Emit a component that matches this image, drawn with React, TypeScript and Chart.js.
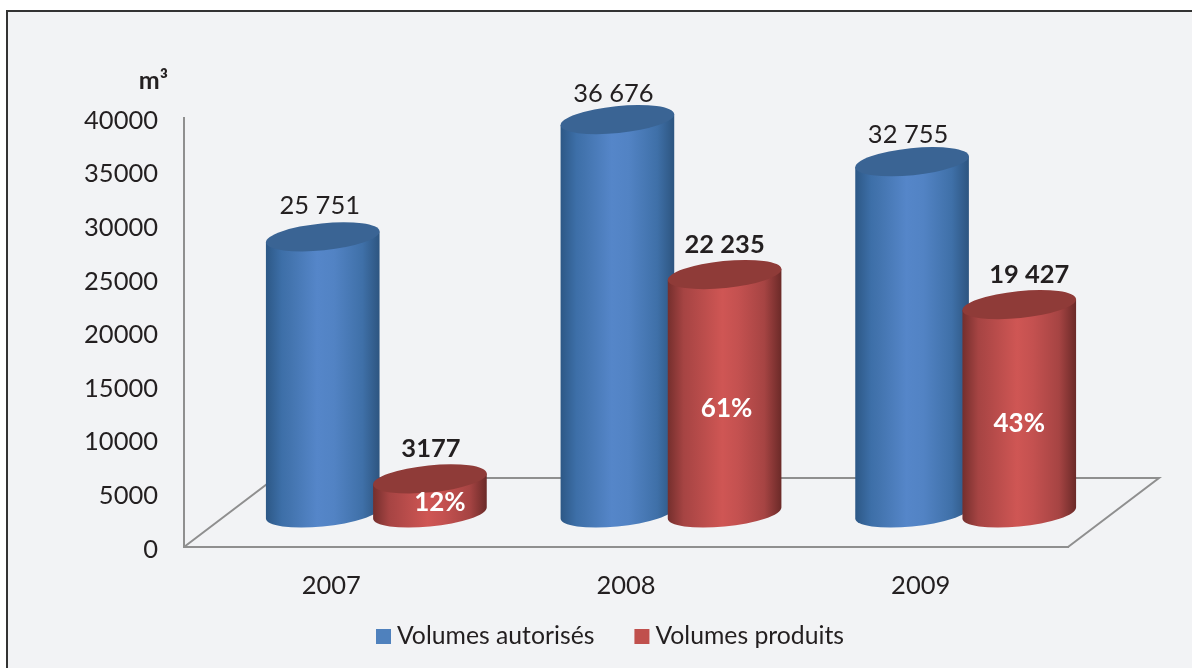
import React, { useEffect, useRef } from "react";
import { Chart, registerables } from "chart.js";

Chart.register(...registerables);

const categories = ["2007", "2008", "2009"];
const volumesAutorises = [25751, 36676, 32755];
const volumesProduits = [3177, 22235, 19427];
const labelsAutorises = ["25 751", "36 676", "32 755"];
const labelsProduits = ["3177", "22 235", "19 427"];
const shares = ["12%", "61%", "43%"];
const seriesNames = ["Volumes autorisés", "Volumes produits"];
const unit = "m³";

const FONT = "Lato, Carlito, sans-serif";
const TEXT = "#231f20";
const AXIS = "#8f8f8f";

// 3D projection: full floor depth, and where the columns stand on it.
const FLOOR_DX = 91;
const FLOOR_DY = 69;
const BAR_DX = 45;
const BAR_DY = 34;
const RX_EXTRA = 3;
const TILT = (-5.8 * Math.PI) / 180;
const RY = 13.5;

// Hand placement of the value labels relative to the top of each column.
const labelNudge = [
  [{ x: -3, y: -31 }, { x: -4, y: -26 }, { x: -4, y: -27 }],
  [{ x: 1, y: -30 }, { x: 0, y: -30 }, { x: 10, y: -30 }],
];
const shareNudge = [{ x: 10, y: 7 }, { x: 2, y: 15 }, { x: 0, y: 15 }];

const BLUE_STOPS: [number, string][] = [
  [0, "#2d5886"], [0.14, "#3d6fa8"], [0.2, "#4273ad"], [0.45, "#5586c9"], [0.6, "#5283c4"], [0.85, "#3f70a8"], [1, "#2d5580"],
];
const RED_STOPS: [number, string][] = [
  [0, "#752f2d"], [0.14, "#a64443"], [0.2, "#ad4746"], [0.48, "#cf5654"], [0.62, "#c45150"], [0.85, "#a64443"], [1, "#6b2a28"],
];
const TOPS = ["#3a6494", "#8f3b38"];

const cylinders = {
  id: "cylinders",
  afterLayout(chart: any) {
    const lg = chart.legend;
    if (lg) {
      const p = lg.options.labels.padding;
      lg.left = 382.4 - p;
      lg.right = lg.left + 600;
      lg.top = 624.1 - p;
    }
  },
  beforeDatasetsDraw(chart: any) {
    const ctx: CanvasRenderingContext2D = chart.ctx;
    const a = chart.chartArea;

    // floor parallelogram
    ctx.save();
    ctx.strokeStyle = AXIS;
    ctx.lineWidth = 2;
    ctx.lineJoin = "miter";
    ctx.beginPath();
    ctx.moveTo(a.left, a.bottom);
    ctx.lineTo(a.left + FLOOR_DX, a.bottom - FLOOR_DY);
    ctx.lineTo(a.right + FLOOR_DX, a.bottom - FLOOR_DY);
    ctx.lineTo(a.right, a.bottom);
    ctx.stroke();
    ctx.restore();

    const cos = Math.cos(TILT);
    const sin = Math.sin(TILT);

    categories.forEach((_, i) => {
      [0, 1].forEach((d) => {
        const el = chart.getDatasetMeta(d).data[i];
        const cx = el.x + BAR_DX;
        const topY = el.y - BAR_DY;
        const baseY = el.base - BAR_DY;
        const rx = (el.width + RX_EXTRA * 2) / 2 + 0.5;
        const t0 = Math.atan2(-RY * sin, rx * cos);
        const ex = rx * Math.cos(t0) * cos - RY * Math.sin(t0) * sin;
        const ey = rx * Math.cos(t0) * sin + RY * Math.sin(t0) * cos;

        const grad = ctx.createLinearGradient(cx - ex, 0, cx + ex, 0);
        (d === 0 ? BLUE_STOPS : RED_STOPS).forEach(([o, c]) => grad.addColorStop(o, c));

        ctx.beginPath();
        ctx.ellipse(cx, baseY, rx, RY, TILT, t0, t0 + Math.PI, false);
        ctx.lineTo(cx - ex, topY - ey);
        ctx.lineTo(cx + ex, topY + ey);
        ctx.closePath();
        ctx.fillStyle = grad;
        ctx.fill();

        ctx.beginPath();
        ctx.ellipse(cx, topY, rx, RY, TILT, 0, Math.PI * 2);
        ctx.fillStyle = TOPS[d];
        ctx.fill();
      });

      // value labels
      [0, 1].forEach((d) => {
        const el = chart.getDatasetMeta(d).data[i];
        const n = labelNudge[d][i];
        ctx.font = `${d === 0 ? "400" : "700"} 25.5px ${FONT}`;
        ctx.fillStyle = TEXT;
        ctx.textAlign = "center";
        ctx.textBaseline = "middle";
        ctx.fillText((d === 0 ? labelsAutorises : labelsProduits)[i], el.x + BAR_DX + n.x, el.y - BAR_DY + n.y);
      });

      const red = chart.getDatasetMeta(1).data[i];
      const s = shareNudge[i];
      ctx.font = `700 26px ${FONT}`;
      ctx.fillStyle = "#ffffff";
      ctx.fillText(shares[i], red.x + BAR_DX + s.x, (red.y + red.base) / 2 - BAR_DY + s.y);
    });

    ctx.font = `700 25px ${FONT}`;
    ctx.fillStyle = TEXT;
    ctx.textAlign = "right";
    ctx.textBaseline = "middle";
    ctx.fillText(unit, a.left - 16, a.top - 37);
    return false;
  },
};

export default function App() {
  const ref = useRef<HTMLCanvasElement>(null);
  useEffect(() => {
    const chart = new Chart(ref.current as HTMLCanvasElement, {
      type: "bar",
      data: {
        labels: categories,
        datasets: [
          { label: seriesNames[0], data: volumesAutorises, backgroundColor: "#4f81bd", borderWidth: 0 },
          { label: seriesNames[1], data: volumesProduits, backgroundColor: "#c0504d", borderWidth: 0 },
        ],
      },
      options: {
        responsive: false,
        animation: false,
        layout: { padding: { left: 0, top: 118, right: 124, bottom: 0 } },
        datasets: { bar: { categoryPercentage: 0.7275, barPercentage: 1 } },
        plugins: {
          tooltip: { enabled: false },
          legend: {
            position: "bottom",
            align: "start",
            maxHeight: 61,
            labels: {
              usePointStyle: true,
              pointStyle: "rect",
              boxWidth: 2.2,
              boxHeight: 15,
              padding: 46.4,
              color: TEXT,
              font: { family: FONT, size: 24.75 },
            },
          },
        },
        scales: {
          x: {
            grid: { display: false, drawTicks: false },
            border: { display: true, color: AXIS, width: 2 },
            afterFit: (s: any) => { s.height = 60; },
            ticks: { color: TEXT, padding: 23, maxRotation: 0, autoSkip: false, font: { family: FONT, size: 25.5 } },
          },
          y: {
            min: 0,
            max: 40000,
            grid: { display: false, drawTicks: false },
            border: { display: true, color: AXIS, width: 2 },
            afterFit: (s: any) => { s.width = 184; },
            ticks: { stepSize: 5000, color: TEXT, padding: 26, labelOffset: 2.5, font: { family: FONT, size: 25.5 }, callback: (v: any) => String(v) },
          },
        },
      },
      plugins: [cylinders],
    } as any);
    return () => chart.destroy();
  }, []);

  return (
    <div style={{ position: "fixed", left: 0, top: 0, width: 1192, height: 668, overflow: "hidden", background: "#ffffff" }}>
      <div style={{ position: "absolute", left: 6, top: 10, right: 0, bottom: 0, background: "#f2f3f5", borderLeft: "2px solid #333", borderTop: "2px solid #333" }} />
      <canvas ref={ref} width={1192} height={668} style={{ position: "absolute", left: 0, top: 0, display: "block" }} />
    </div>
  );
}
